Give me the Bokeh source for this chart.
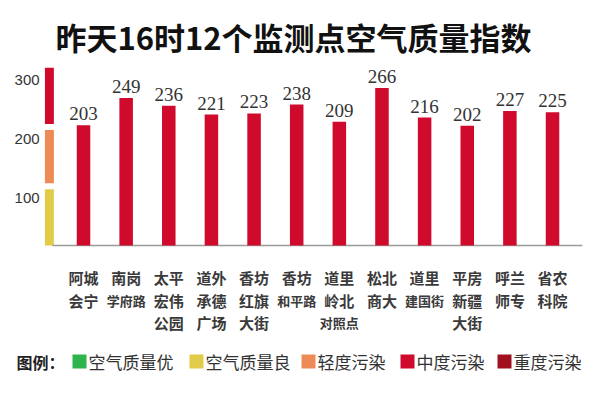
from bokeh.plotting import figure
from bokeh.models import Range1d, ColumnDataSource, Label, BoxAnnotation
from bokeh.core.properties import value
from bokeh.embed import file_html
from bokeh.resources import INLINE

# ---- data ----
sites = ["阿城会宁", "南岗学府路", "太平宏伟公园", "道外承德广场", "香坊红旗大街", "香坊和平路",
         "道里岭北对照点", "松北商大", "道里建国街", "平房新疆大街", "呼兰师专", "省农科院"]
site_lines = [["阿城", "会宁"], ["南岗", "学府路"], ["太平", "宏伟", "公园"], ["道外", "承德", "广场"],
              ["香坊", "红旗", "大街"], ["香坊", "和平路"], ["道里", "岭北", "对照点"], ["松北", "商大"],
              ["道里", "建国街"], ["平房", "新疆", "大街"], ["呼兰", "师专"], ["省农", "科院"]]
aqi = [203, 249, 236, 221, 223, 238, 209, 266, 216, 202, 227, 225]

band_low = [0, 100, 200]
band_high = [100, 200, 300]
band_colors = ["#e2cb48", "#ee8a55", "#cf0a2c"]
tick_labels = ["100", "200", "300"]

legend_labels = ["空气质量优", "空气质量良", "轻度污染", "中度污染", "重度污染"]
legend_colors = ["#2eb44c", "#e2cb48", "#ee8a55", "#cf0a2c", "#a0101e"]
title_text = "昨天16时12个监测点空气质量指数"
legend_title = "图例："

BAR_COLOR = "#cf0a2c"
CJK = "Noto Sans CJK SC"

W, H = 584, 379
p = figure(width=W, height=H, output_backend="svg", toolbar_location=None,
           x_range=Range1d(-1.947, 11.75), y_range=Range1d(-226.2, 413.6),
           min_border=0, min_border_left=0, min_border_right=0,
           min_border_top=0, min_border_bottom=0)
p.axis.visible = False
p.grid.visible = False
p.outline_line_color = None
p.background_fill_color = "white"
p.border_fill_color = "white"

n = len(aqi)
idx = list(range(n))

# color bands on the left
gap = 5
bx = -0.80
bw = 0.21
bot = [lo + (gap if lo > 0 else 0) for lo in band_low]
top = [hi - (gap if hi < 300 else 0) for hi in band_high]
p.quad(left=[bx - bw / 2] * 3, right=[bx + bw / 2] * 3, bottom=bot, top=top,
       fill_color=band_colors, line_color=None)
p.text(x=[-1.03] * 3, y=band_high, text=tick_labels, text_align="right",
       text_baseline="middle", y_offset=12, text_font=value("Liberation Sans"),
       text_font_size="15px", text_color="#333333")

# baseline
p.segment(x0=[-0.73], y0=[0], x1=[n - 1 + 0.7], y1=[0], line_color="#9a9a9a", line_width=1.5)

# bars
src = ColumnDataSource(dict(x=idx, top=aqi, label=[str(v) for v in aqi]))
p.vbar(x="x", top="top", bottom=0, width=0.317, source=src, fill_color=BAR_COLOR, line_color=None)
p.text(x="x", y="top", text="label", source=src, text_align="center", text_baseline="bottom",
       y_offset=-5, text_font=value("Liberation Serif"), text_font_size="19px", text_color="#333333")

# category labels (multi-line)
lx, lt, lo_, ls = [], [], [], []
for i, lines in enumerate(site_lines):
    for r, t in enumerate(lines):
        lx.append(i)
        lt.append(t)
        lo_.append(32 + 22.5 * r)
        ls.append("15px" if len(t) <= 2 else "13px")
lsrc = ColumnDataSource(dict(x=lx, y=[0] * len(lx), text=lt, yoff=lo_, size=ls))
p.text(x="x", y="y", text="text", source=lsrc, y_offset="yoff", text_font_size="size",
       text_align="center", text_baseline="middle", text_font=value(CJK),
       text_font_style="bold", text_color="#3a3a3a")

# title
p.add_layout(Label(x=293, y=H - 36, x_units="screen", y_units="screen", text=title_text,
                   text_font=CJK, text_font_style="bold", text_font_size="31px",
                   text_color="#111111", text_align="center", text_baseline="middle"))

# legend (drawn manually in screen space)
leg_y = 361          # canvas px from top (row centre)
sq = 14
p.add_layout(Label(x=16, y=H - leg_y, x_units="screen", y_units="screen", text=legend_title,
                   text_font=CJK, text_font_style="bold", text_font_size="16px",
                   text_color="#222222", text_align="left", text_baseline="middle"))
leg_x = [72, 189, 301, 400, 497]
for lx0, lab, col in zip(leg_x, legend_labels, legend_colors):
    p.add_layout(BoxAnnotation(left=lx0, right=lx0 + sq, top=leg_y - sq / 2, bottom=leg_y + sq / 2,
                               left_units="canvas", right_units="canvas",
                               top_units="canvas", bottom_units="canvas",
                               fill_color=col, fill_alpha=1, line_color=None))
    p.add_layout(Label(x=lx0 + sq + 2, y=H - leg_y, x_units="screen", y_units="screen", text=lab,
                       text_font=CJK, text_font_size="17px", text_color="#333333",
                       text_align="left", text_baseline="middle"))

open("out.html", "w").write(file_html(p, INLINE))
